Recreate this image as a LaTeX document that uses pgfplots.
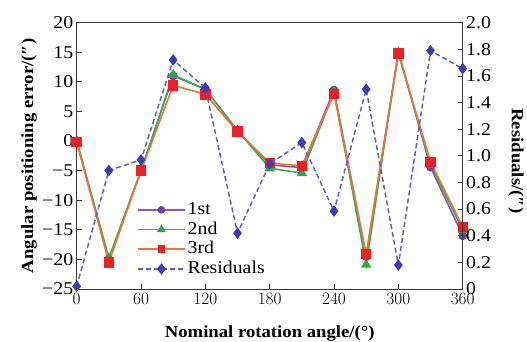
\documentclass[border=0pt]{standalone}
\usepackage{fontspec}
\setmainfont{Liberation Serif}[FakeStretch=1.1]
\usepackage{pgfplots}
\pgfplotsset{compat=1.18}
\definecolor{c1}{RGB}{150,80,185}
\definecolor{c1m}{RGB}{125,55,165}
\definecolor{c2}{RGB}{55,175,85}
\definecolor{c2m}{RGB}{40,170,70}
\definecolor{c3}{RGB}{240,115,50}
\definecolor{c3m}{RGB}{238,30,35}
\definecolor{c4}{RGB}{95,95,205}
\definecolor{c4m}{RGB}{60,60,180}
\definecolor{axc}{RGB}{55,55,55}
\pgfplotstableread{
x e1 e2 e3 r
0 0 0 -0.2 0.02
30 -20 -19.8 -20.5 0.89
60 -5 -5 -5 0.97
90 11 11.2 9.4 1.72
120 8.8 8.7 7.9 1.51
150 1.7 1.8 1.6 0.42
180 -4 -4.6 -3.7 0.94
210 -4.5 -5.4 -4.2 1.10
240 8.6 8.3 8.0 0.585
270 -19.5 -20.9 -19.1 1.50
300 15 15 14.8 0.18
330 -4.4 -4 -3.5 1.79
360 -16 -15 -14.5 1.655
}\data
\pgfplotsset{
  every axis/.append style={
    width=386pt, height=266.3pt, scale only axis,
    xmin=0, xmax=360,
    axis line style={axc, line width=0.9pt},
    every tick/.style={axc, line width=0.8pt},
    major tick length=5pt,
    tick align=inside,
    tick label style={font=\fontsize{18}{20}\selectfont},
    label style={font=\bfseries\fontsize{17}{19}\selectfont},
  }
}
\begin{document}
\begin{tikzpicture}
\begin{axis}[
  ymin=-25, ymax=20,
  xtick={0,60,120,180,240,300,360},
  xtick pos=bottom,
  ytick pos=left,
  ytick={-25,-20,-15,-10,-5,0,5,10,15,20},
  yticklabels={−25,−20,−15,−10,−5,0,5,10,15,20},
  xticklabel style={anchor=base, yshift=-16pt},
  xlabel={Nominal rotation angle/(°)},
  xlabel style={at={(axis description cs:0.5,-0.184)}, anchor=base},
  ylabel={Angular positioning error/(″)},
  ylabel style={at={(axis description cs:-0.1132,0.5)}, anchor=base},
]
\addplot[c1, line width=1.6pt, mark=*, mark size=3.6pt, mark options={fill=c1m, draw=c1m}] table[x=x, y=e1] {\data};
\addplot[c2, line width=1.6pt, mark=triangle*, mark size=4.4pt, mark options={fill=c2m, draw=c2m}] table[x=x, y=e2] {\data};
\addplot[c3, line width=1.6pt, mark=square*, mark size=4.4pt, mark options={fill=c3m, draw=c3m}] table[x=x, y=e3] {\data};
\end{axis}
\begin{axis}[
  ymin=0, ymax=2,
  axis x line=none,
  axis y line*=right,
  ytick pos=right,
  ytick={0,0.2,0.4,0.6,0.8,1.0,1.2,1.4,1.6,1.8,2.0},
  yticklabels={0,0.2,0.4,0.6,0.8,1.0,1.2,1.4,1.6,1.8,2.0},
  ylabel={Residuals/(″)},
  ylabel style={at={(axis description cs:1.1277,0.481)}, anchor=base, rotate=180},
  legend style={draw=none, fill=none, at={(axis description cs:0.156,0.335)}, anchor=north west,
    inner sep=0pt, row sep=0pt, font=\fontsize{18}{20}\selectfont,
    nodes={inner sep=2pt, text height=12.5pt, text depth=3.2pt}},
  legend cell align=left,
  legend image code/.code={\draw[mark repeat=2,mark phase=2] plot coordinates {(0pt,0pt)(23.5pt,0pt)(47pt,0pt)};},
]
\addlegendimage{c1, line width=1.6pt, mark=*, mark size=3pt, mark options={fill=c1m, draw=c1m}}
\addlegendimage{c2, line width=1.6pt, mark=triangle*, mark size=3.5pt, mark options={fill=c2m, draw=c2m}}
\addlegendimage{c3, line width=1.6pt, mark=square*, mark size=3pt, mark options={fill=c3m, draw=c3m}}
\addplot[c4, line width=1.5pt, dash pattern=on 5pt off 3pt, mark=diamond*, mark size=4.6pt, mark options={solid, fill=c4m, draw=c4m}] table[x=x, y=r] {\data};
\legend{1st,2nd,3rd,Residuals}
\end{axis}
\pgfresetboundingbox
\path (-76.7pt,-53pt) rectangle (450.3pt,289pt);
\end{tikzpicture}
\end{document}
